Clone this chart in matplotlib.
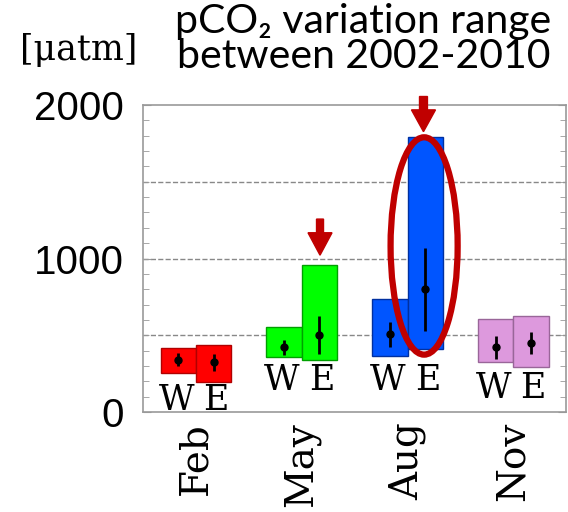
# pCO2 variation range, W/E bars per month
import numpy as np
import matplotlib.pyplot as plt
from matplotlib.patches import Ellipse, FancyArrow
from matplotlib.ticker import FixedLocator, MultipleLocator

months = ['Feb', 'May', 'Aug', 'Nov']
face_colors = ['#ff0000', '#00ff00', '#0055ff', '#dd99dd']
edge_colors = ['#b00000', '#00a000', '#0030a0', '#996699']

# range bars (low / high) for west and east
w_low = np.array([254, 357, 363, 324])
w_high = np.array([420, 552, 739, 605])
e_low = np.array([196, 342, 409, 294])
e_high = np.array([435, 961, 1790, 629])

# mean and error span
w_mean = np.array([342, 424, 507, 424])
w_err_low = np.array([298, 374, 424, 348])
w_err_high = np.array([385, 472, 587, 498])
e_mean = np.array([326, 502, 800, 450])
e_err_low = np.array([271, 376, 528, 376])
e_err_high = np.array([380, 624, 1072, 520])

# height of the "W E" letters
we_label_y = [76, 207, 207, 155]

fig = plt.figure(figsize=(5.68, 5.12), dpi=100)
ax = fig.add_axes([0.252, 0.195, 0.745, 0.6])

x = np.arange(len(months)) + 0.5
bw = 0.334

ax.bar(x - bw / 2, w_high - w_low, bottom=w_low, width=bw,
       color=face_colors, edgecolor=edge_colors, linewidth=1, zorder=2)
ax.bar(x + bw / 2, e_high - e_low, bottom=e_low, width=bw,
       color=face_colors, edgecolor=edge_colors, linewidth=1, zorder=2)

ax.errorbar(x - bw / 2, w_mean, yerr=[w_mean - w_err_low, w_err_high - w_mean],
            fmt='o', color='black', markersize=5, elinewidth=2, capsize=0, zorder=3)
ax.errorbar(x + bw / 2, e_mean, yerr=[e_mean - e_err_low, e_err_high - e_mean],
            fmt='o', color='black', markersize=5, elinewidth=2, capsize=0, zorder=3)

for i in range(len(months)):
    ax.text(x[i] - bw / 2 - 0.02, we_label_y[i], 'W', ha='center', va='center',
            fontsize=25, family='DejaVu Serif', zorder=4)
    ax.text(x[i] + bw / 2 + 0.02, we_label_y[i], 'E', ha='center', va='center',
            fontsize=25, family='DejaVu Serif', zorder=4)

# highlight arrows and ellipse
red = '#c00000'
ax.add_patch(FancyArrow(1.672, 1257, 0, 1022 - 1257, width=0.066, head_width=0.227,
                        head_length=146, length_includes_head=True, color=red,
                        zorder=5, clip_on=False))
ax.add_patch(FancyArrow(2.65, 2055, 0, 1826 - 2055, width=0.075, head_width=0.227,
                        head_length=142, length_includes_head=True, color=red,
                        zorder=5, clip_on=False))
ax.add_patch(Ellipse((2.656, 1082), 0.634, 1415, fill=False, edgecolor=red,
                     linewidth=4.5, zorder=4, clip_on=False))

ax.set_xlim(0, 4)
ax.set_ylim(0, 2000)
ax.set_xticks(x)
ax.set_xticklabels(months, rotation=90, fontsize=28, family='DejaVu Serif')
ax.tick_params(axis='x', length=0, pad=7)

ax.yaxis.set_major_locator(FixedLocator([0, 1000, 2000]))
ax.yaxis.set_minor_locator(MultipleLocator(100))
ax.tick_params(axis='y', which='both', direction='in', left=True, right=True,
               color='#999999', labelsize=29, pad=14)
ax.tick_params(axis='y', which='major', length=6)
ax.tick_params(axis='y', which='minor', length=4, width=0.6)
for lab in ax.get_yticklabels():
    lab.set_family('Liberation Sans')

for yv in [500, 1000, 1500]:
    ax.axhline(yv, color='#888888', linestyle='--', linewidth=1, zorder=1)

for sp in ax.spines.values():
    sp.set_color('#999999')
    sp.set_linewidth(1.2)

fig.text(0.139, 0.902, '[μatm]', ha='center', va='center', fontsize=25,
         family='DejaVu Serif')
fig.text(0.64, 0.995, 'pCO₂ variation range\nbetween 2002-2010', ha='center', va='top',
         fontsize=29.5, family=['Lato', 'DejaVu Sans'], linespacing=0.95)

fig.savefig('out.png', dpi=100)
